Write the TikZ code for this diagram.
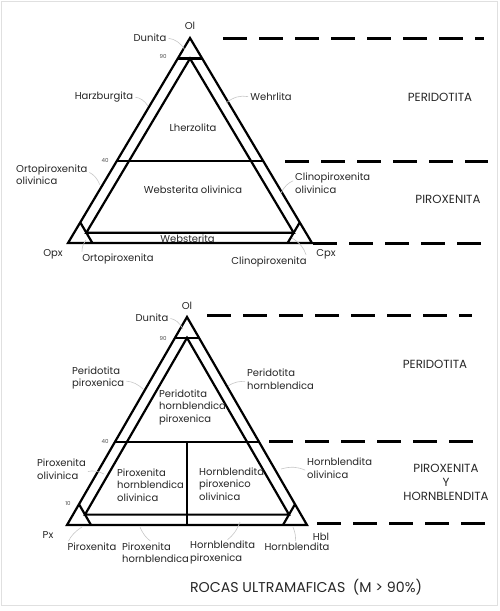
\documentclass[tikz,border=0pt]{standalone}
\usepackage{fontspec}
\setmainfont{Poppins}
\usetikzlibrary{calc}
\tikzset{
  tri/.style={line width=2.2pt, line join=miter},
  divl/.style={line width=2.2pt},
  dashline/.style={line width=3pt, dash pattern=on 24pt off 12pt},
  leader/.style={draw=black!22, line width=0.6pt, shorten <=2pt},
  lbl/.style={inner sep=0pt, font=\fontsize{10}{12.5}\selectfont, text=black!85},
  lblw/.style={lbl, anchor=west, align=left},
  big/.style={inner sep=0pt, font=\fontsize{11.8}{14}\selectfont, text=black!85},
  tiny/.style={inner sep=0pt, font=\fontsize{5.5}{6}\selectfont, text=black!70},
}
\begin{document}
\begin{tikzpicture}[x=1pt,y=-1pt]
\useasboundingbox (0,0) rectangle (500,611);
\draw[black!12, line width=1pt] (1.5,1.5) rectangle (497,605);

% ===== TOP TRIANGLE =====
\coordinate (O1) at (190,38);
\coordinate (P1) at (68,243);
\coordinate (C1) at (312,243);
\coordinate (a90) at (177.8,58.5);
\coordinate (b90) at (202.2,58.5);
\coordinate (ia1) at (190,58.5);
\coordinate (il1) at (86.3,232.75);
\coordinate (ir1) at (293.7,232.75);
\coordinate (a40) at (116.8,161);
\coordinate (b40) at (263.2,161);
\coordinate (sl1) at (80.3,222.5);
\coordinate (slb1) at (92.4,243);
\coordinate (sr1) at (299.7,222.5);
\coordinate (srb1) at (287.6,243);

\draw[tri] (O1) -- (P1) -- (C1) -- cycle;
\draw[divl] (a90) -- (b90);
\draw[tri] (il1) -- (ia1) -- (ir1) -- cycle;
\draw[divl] (a40) -- (b40);
\draw[divl] (sl1) -- (slb1);
\draw[divl] (sr1) -- (srb1);

% dashed lines top
\coordinate (d1s) at (223,38);  \coordinate (d1e) at (484,38);
\coordinate (d2s) at (285,161); \coordinate (d2e) at (488,161);
\coordinate (d3s) at (313,243); \coordinate (d3e) at (486,243);
\draw[dashline] (d1s) -- (d1e);
\draw[dashline] (d2s) -- (d2e);
\draw[dashline] (d3s) -- (d3e);

\node[lbl] (ol1) at (190,26) {Ol};
\node[lbl] (dun1) at (150,38) {Dunita};
\node[tiny] (n901) at (163,56) {90};
\node[lbl] (harz) at (104,97) {Harzburgita};
\node[lbl] (wehr) at (271,97) {Wehrlita};
\node[lbl] (lher) at (193,128) {Lherzolita};
\node[big] (per1) at (440,97) {PERIDOTITA};
\node[tiny] (n401) at (105,160) {40};
\node[lblw] (ortol) at (16,174.5) {Ortopiroxenita\\olivinica};
\node[lbl] (webol) at (193,190) {Websterita olivinica};
\node[lblw] (clinol) at (295,183) {Clinopiroxenita\\olivinica};
\node[big] (pir1) at (448,199) {PIROXENITA};
\node[lbl] (webs) at (187.5,239) {Websterita};
\node[lbl] (opx) at (53,254) {Opx};
\node[lbl] (orto) at (118,259) {Ortopiroxenita};
\node[lbl] (clino) at (269,262) {Clinopiroxenita};
\node[lbl] (cpx) at (326,254) {Cpx};

\coordinate (tDun1) at (185,50);
\coordinate (tHarz) at (148,106);
\coordinate (tWehr) at (226,103);
\coordinate (tOrtol) at (100,185);
\coordinate (tClinol) at (281,193);
\coordinate (tOrto) at (86,240);
\coordinate (tClino) at (292,238);
\draw[leader] (dun1.east) to[bend left=25] (tDun1);
\draw[leader] (harz.east) to[bend left=25] (tHarz);
\draw[leader] (wehr.west) to[bend right=25] (tWehr);
\draw[leader] ([yshift=3pt]ortol.east) to[bend left=20] (tOrtol);
\draw[leader] ([yshift=3pt]clinol.west) to[bend right=20] (tClinol);
\draw[leader] (orto.north west) to[bend left=20] (tOrto);
\draw[leader] (clino.north east) to[bend right=20] (tClino);

% ===== BOTTOM TRIANGLE =====
\coordinate (O2) at (187,317);
\coordinate (P2) at (67,525);
\coordinate (H2) at (307,525);
\coordinate (a902) at (175,337.8);
\coordinate (b902) at (199,337.8);
\coordinate (ia2) at (187,337.8);
\coordinate (il2) at (85,514.6);
\coordinate (ir2) at (289,514.6);
\coordinate (a402) at (115,441.8);
\coordinate (b402) at (259,441.8);
\coordinate (vt) at (187,441.8);
\coordinate (vb) at (187,525);
\coordinate (sl2) at (79,504.2);
\coordinate (slb2) at (91,525);
\coordinate (sr2) at (295,504.2);
\coordinate (srb2) at (283,525);

\draw[tri] (O2) -- (P2) -- (H2) -- cycle;
\draw[divl] (a902) -- (b902);
\draw[tri] (il2) -- (ia2) -- (ir2) -- cycle;
\draw[divl] (a402) -- (b402);
\draw[divl] (vt) -- (vb);
\draw[divl] (sl2) -- (slb2);
\draw[divl] (sr2) -- (srb2);

\coordinate (e1s) at (207,315);  \coordinate (e1e) at (472,315);
\coordinate (e2s) at (269,441);  \coordinate (e2e) at (473,441);
\coordinate (e3s) at (317,523);  \coordinate (e3e) at (486,523);
\draw[dashline] (e1s) -- (e1e);
\draw[dashline] (e2s) -- (e2e);
\draw[dashline] (e3s) -- (e3e);

\node[lbl] (ol2) at (187,306) {Ol};
\node[lbl] (dun2) at (152,318) {Dunita};
\node[tiny] (n902) at (163,338) {90};
\node[lblw] (perpx) at (72,378) {Peridotita\\piroxenica};
\node[lblw] (perhb) at (247,379) {Peridotita\\hornblendica};
\node[lblw] (perhp) at (159,407) {Peridotita\\hornblendica\\piroxenica};
\node[big] (per2) at (435,364) {PERIDOTITA};
\node[tiny] (n402) at (105,441) {40};
\node[lblw] (pxol) at (37,469) {Piroxenita\\olivinica};
\node[lblw] (pxhbol) at (117,485) {Piroxenita\\hornblendica\\olivinica};
\node[lblw] (hbpxol) at (199,484) {Hornblendita\\piroxenico\\olivinica};
\node[lblw] (hbol) at (307,468) {Hornblendita\\olivinica};
\node[big, align=center] (pirhb) at (446,482) {PIROXENITA\\Y\\HORNBLENDITA};
\node[tiny] (n102) at (68,503) {10};
\node[lbl] (px) at (48,535) {Px};
\node[lbl] (hbl) at (321,537) {Hbl};
\node[lbl] (pxb) at (92,547) {Piroxenita};
\node[lblw] (pxhb) at (122,552.5) {Piroxenita\\hornblendica};
\node[lblw] (hbpx) at (190,552.5) {Hornblendita\\piroxenica};
\node[lbl] (hbb) at (297,547) {Hornblendita};
\node[inner sep=0pt, font=\fontsize{14.2}{16}\selectfont, text=black!85] (title) at (306,587) {ROCAS ULTRAMAFICAS\ \ (M > 90\%)};

\coordinate (uDun) at (183,329);
\coordinate (uPerpx) at (144,390);
\coordinate (uPerhb) at (228,386);
\coordinate (uPxol) at (104,474);
\coordinate (uHbol) at (281,469);
\coordinate (uPxb) at (82,527);
\coordinate (uPxhb) at (140,527);
\coordinate (uHbpx) at (240,522);
\coordinate (uHbb) at (293,527);
\draw[leader] (dun2.east) to[bend left=25] (uDun);
\draw[leader] ([yshift=-3pt]perpx.east) to[bend left=20] (uPerpx);
\draw[leader] ([yshift=-3pt]perhb.west) to[bend right=20] (uPerhb);
\draw[leader] ([yshift=-3pt]pxol.east) to[bend left=20] (uPxol);
\draw[leader] ([yshift=-3pt]hbol.west) to[bend right=20] (uHbol);
\draw[leader] (pxb.north west) to[bend left=15] (uPxb);
\draw[leader] ([xshift=30pt]pxhb.north west) to[bend left=15] (uPxhb);
\draw[leader] ([xshift=36pt]hbpx.north west) to[bend right=15] (uHbpx);
\draw[leader] ([xshift=-2pt]hbb.north) to[bend right=15] (uHbb);
\end{tikzpicture}
\end{document}
